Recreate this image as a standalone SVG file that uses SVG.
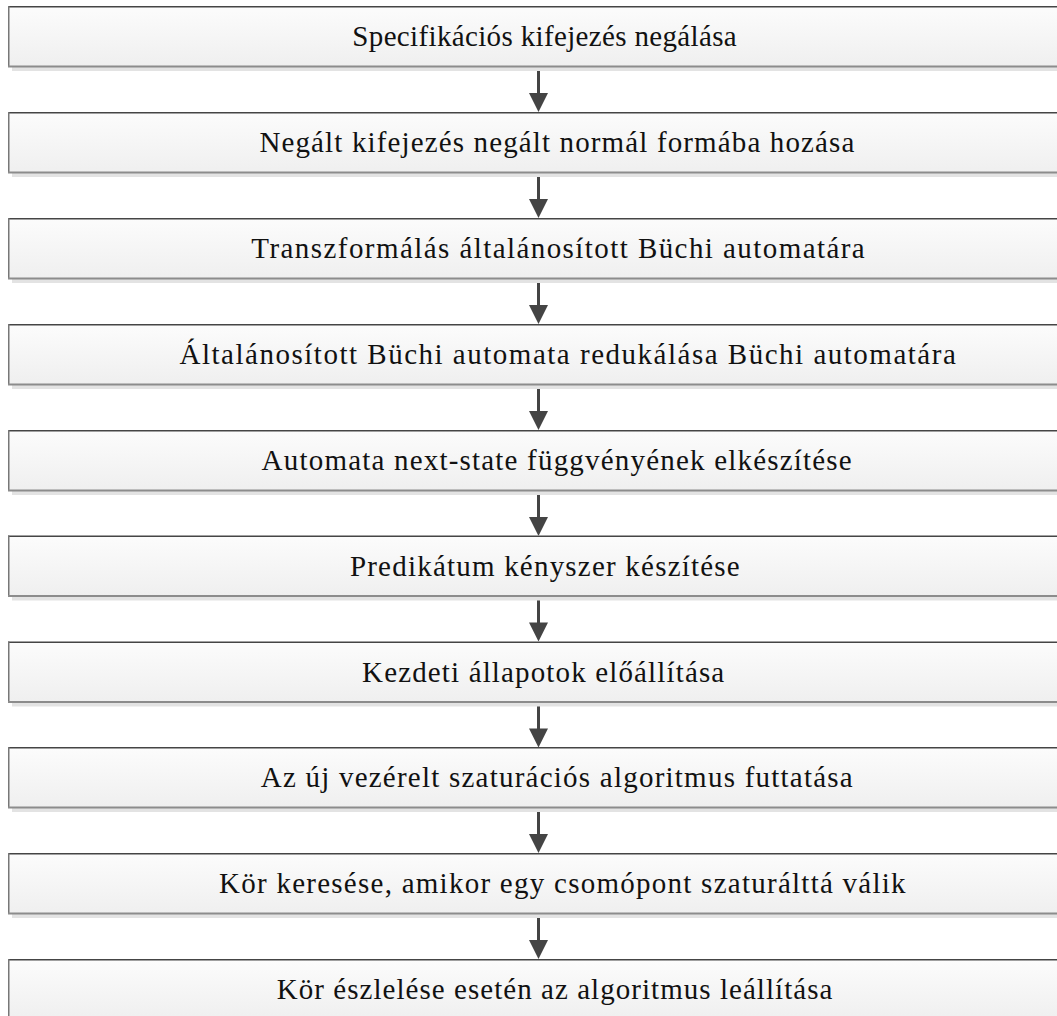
<svg xmlns="http://www.w3.org/2000/svg" width="1057" height="1016" viewBox="0 0 1057 1016">
  <defs>
    <linearGradient id="boxFill" x1="0" y1="0" x2="0" y2="1">
      <stop offset="0" stop-color="#fcfcfc"/>
      <stop offset="1" stop-color="#efefef"/>
    </linearGradient>
    <!-- one step box: shadow, gradient body, edge lines -->
    <g id="box">
      <rect x="12" y="61" width="1060" height="4" fill="#e3e3e3"/>
      <rect x="8" y="0" width="1064" height="61" fill="url(#boxFill)"/>
      <line x1="8" y1="0.75" x2="1072" y2="0.75" stroke="#454545" stroke-width="1.5"/>
      <line x1="8.75" y1="0" x2="8.75" y2="61" stroke="#777777" stroke-width="1.5"/>
      <line x1="8" y1="60.5" x2="1072" y2="60.5" stroke="#8c8c8c" stroke-width="2"/>
    </g>
    <g id="arrow">
      <line x1="538.5" y1="0" x2="538.5" y2="28" stroke="#444444" stroke-width="3"/>
      <polygon points="529,26 548,26 538.5,45" fill="#444444"/>
    </g>
  </defs>
  <style>
    .lbl { font-family: "Liberation Serif", "DejaVu Serif", serif; font-size: 29px; fill: #111111; }
  </style>

  <g id="connectors">
    <use href="#arrow" x="0" y="67"/>
    <use href="#arrow" x="0" y="173"/>
    <use href="#arrow" x="0" y="279"/>
    <use href="#arrow" x="0" y="385"/>
    <use href="#arrow" x="0" y="491"/>
    <use href="#arrow" x="0" y="596.5"/>
    <use href="#arrow" x="0" y="702.5"/>
    <use href="#arrow" x="0" y="808"/>
    <use href="#arrow" x="0" y="914"/>
  </g>

  <g id="step1" transform="translate(0,6)">
    <use href="#box"/>
    <text class="lbl" x="352.3" y="40" textLength="384.4" lengthAdjust="spacing">Specifikációs kifejezés negálása</text>
  </g>
  <g id="step2" transform="translate(0,112)">
    <use href="#box"/>
    <text class="lbl" x="259.4" y="40" textLength="595" lengthAdjust="spacing">Negált kifejezés negált normál formába hozása</text>
  </g>
  <g id="step3" transform="translate(0,218)">
    <use href="#box"/>
    <text class="lbl" x="251.3" y="40" textLength="613.4" lengthAdjust="spacing">Transzformálás általánosított Büchi automatára</text>
  </g>
  <g id="step4" transform="translate(0,324)">
    <use href="#box"/>
    <text class="lbl" x="179.5" y="40" textLength="776.3" lengthAdjust="spacing">Általánosított Büchi automata redukálása Büchi automatára</text>
  </g>
  <g id="step5" transform="translate(0,430)">
    <use href="#box"/>
    <text class="lbl" x="261.6" y="40" textLength="590.1" lengthAdjust="spacing">Automata next-state függvényének elkészítése</text>
  </g>
  <g id="step6" transform="translate(0,535.5)">
    <use href="#box"/>
    <text class="lbl" x="349.9" y="40" textLength="389.8" lengthAdjust="spacing">Predikátum kényszer készítése</text>
  </g>
  <g id="step7" transform="translate(0,641.5)">
    <use href="#box"/>
    <text class="lbl" x="362.1" y="40" textLength="362.1" lengthAdjust="spacing">Kezdeti állapotok előállítása</text>
  </g>
  <g id="step8" transform="translate(0,747)">
    <use href="#box"/>
    <text class="lbl" x="260.7" y="40" textLength="592" lengthAdjust="spacing">Az új vezérelt szaturációs algoritmus futtatása</text>
  </g>
  <g id="step9" transform="translate(0,853)">
    <use href="#box"/>
    <text class="lbl" x="219" y="40" textLength="686.6" lengthAdjust="spacing">Kör keresése, amikor egy csomópont szaturálttá válik</text>
  </g>
  <g id="step10" transform="translate(0,959)">
    <use href="#box"/>
    <text class="lbl" x="276.7" y="40" textLength="555.7" lengthAdjust="spacing">Kör észlelése esetén az algoritmus leállítása</text>
  </g>
</svg>
